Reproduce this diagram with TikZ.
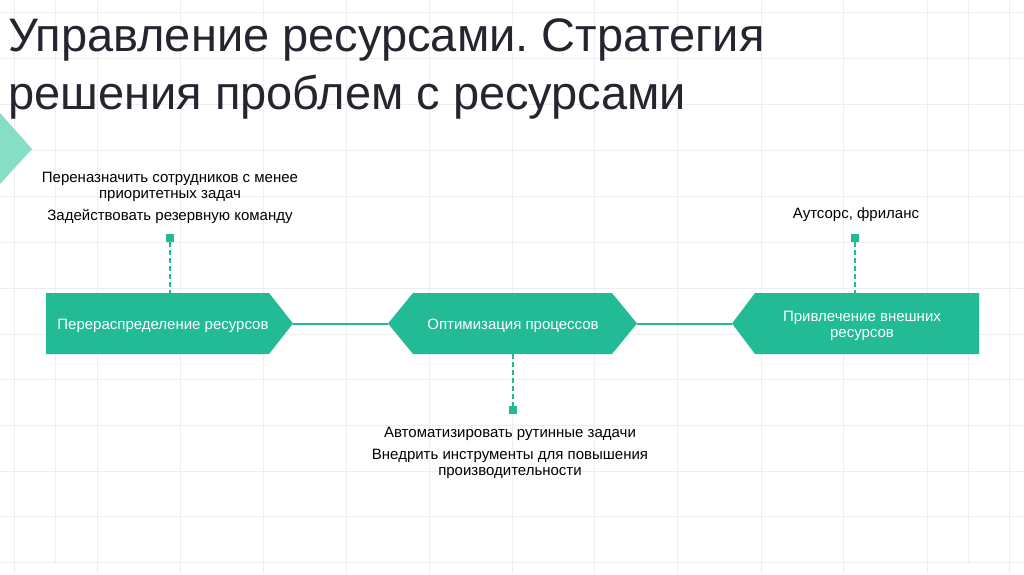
\documentclass[tikz,border=0pt]{standalone}
\usepackage{fontspec}
\setmainfont{Liberation Sans}
\frenchspacing
\definecolor{teal1}{RGB}{34,187,150}
\definecolor{mint}{RGB}{134,223,196}
\definecolor{gridc}{RGB}{238,238,238}
\definecolor{titlec}{RGB}{37,37,47}
\tikzset{
  gridline/.style={draw=gridc, line width=0.9pt},
  shapefill/.style={fill=teal1, draw=none},
  boxtext/.style={text=white, font=\fontsize{15}{15.5}\selectfont, align=center, inner sep=0pt},
  notetext/.style={text=black, font=\fontsize{15}{16}\selectfont, align=center, inner sep=0pt},
  titletext/.style={text=titlec, font=\fontsize{47}{54}\selectfont, anchor=base west, inner sep=0pt},
  link/.style={draw=teal1, line width=2pt},
  dashlink/.style={draw=teal1, line width=1.2pt, dash pattern=on 5pt off 3pt},
  marker/.style={fill=teal1, draw=none, minimum size=8pt, inner sep=0pt, rectangle}
}
\begin{document}
\begin{tikzpicture}[x=1pt,y=-1pt]
\useasboundingbox (0,0) rectangle (1024,574);
\fill[white] (0,0) rectangle (1024,574);
% grid
\foreach \gx in {14,97,180,263,346,429,512,594,677,761,843,927,1009}
  \draw[gridline] (\gx,0) -- (\gx,574);
\foreach \gx in {55,968}
  \draw[gridline] (\gx,0) -- (\gx,562);
\foreach \gy in {12,58,104,150,196,242,288,334,379,425,471,516,562}
  \draw[gridline] (0,\gy) -- (1024,\gy);
% mint triangle
\fill[mint] (0,113) -- (32,149) -- (0,184) -- cycle;
% title
\node[titletext] (t1) at (8,51) {Управление ресурсами. Стратегия};
\node[titletext] (t2) at (8,109) {решения проблем с ресурсами};
% shapes
\coordinate (b1tip) at (293,323.5);
\coordinate (b2ltip) at (388,323.5);
\coordinate (b2rtip) at (637,323.5);
\coordinate (b3tip) at (732,323.5);
\fill[shapefill] (46,293) -- (269,293) -- (b1tip) -- (269,354) -- (46,354) -- cycle;
\fill[shapefill] (b2ltip) -- (413,293) -- (612,293) -- (b2rtip) -- (612,354) -- (413,354) -- cycle;
\fill[shapefill] (b3tip) -- (755,293) -- (979,293) -- (979,354) -- (755,354) -- cycle;
\node[boxtext] (n1) at (163,325.5) {Перераспределение ресурсов};
\node[boxtext] (n2) at (513,325.5) {Оптимизация процессов};
\node[boxtext] (n3) at (862,326) {Привлечение внешних\\ресурсов};
% connectors
\draw[link] (b1tip) -- (b2ltip);
\draw[link] (b2rtip) -- (b3tip);
% markers
\coordinate (b1top) at (170,293);
\coordinate (b3top) at (855,293);
\coordinate (b2bot) at (513,354);
\node[marker] (m1) at (170,238) {};
\node[marker] (m3) at (855,238) {};
\node[marker] (m2) at (513,410) {};
\draw[dashlink] (m1.south) -- (b1top);
\draw[dashlink] (m3.south) -- (b3top);
\draw[dashlink] (b2bot) -- (m2.north);
% notes
\node[notetext] (a1) at (170,187) {Переназначить сотрудников с менее\\приоритетных задач};
\node[notetext] (a2) at (170,216) {Задействовать резервную команду};
\node[notetext] (c1) at (856,215) {Аутсорс, фриланс};
\node[notetext] (d1) at (510,434) {Автоматизировать рутинные задачи};
\node[notetext] (d2) at (510,463.5) {Внедрить инструменты для повышения\\производительности};
\end{tikzpicture}
\end{document}
